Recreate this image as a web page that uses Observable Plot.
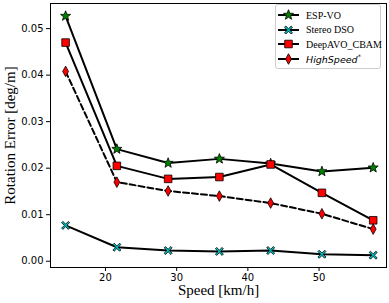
<!DOCTYPE html>
<html>
<head>
<meta charset="utf-8">
<script src="https://cdn.jsdelivr.net/npm/d3@7"></script>
<script src="https://cdn.jsdelivr.net/npm/@observablehq/plot@0.6"></script>
<style>
  body { margin: 0; background: #fff; }
  #wrap { position: relative; width: 389px; height: 303px; }
  #legend {
    position: absolute; left: 275px; top: 4px; width: 106px; height: 65px;
    border: 1px solid #ccc; border-radius: 3px; background: #fff; box-sizing: border-box;
  }
  .row { position: absolute; left: 0; height: 14px; display: flex; align-items: center; }
  .row svg { display: block; }
  .lab { font-family: "Liberation Serif", "Times New Roman", serif; font-size: 10px; color: #000; margin-left: 3px; white-space: nowrap; }
  .lab.it { font-family: "DejaVu Sans", sans-serif; font-style: italic; font-size: 9.5px; }
</style>
</head>
<body>
<div id="wrap"><div id="chart"></div><div id="legend"></div></div>
<script>
// ---- data ----
const speeds = [14.4, 21.6, 28.8, 36, 43.2, 50.4, 57.6];
const espVO = [0.0527, 0.0241, 0.0211, 0.0220, 0.0210, 0.0193, 0.0201];
const stereoDSO = [0.0077, 0.0030, 0.0023, 0.0021, 0.0023, 0.0015, 0.0013];
const deepAVO = [0.0470, 0.0205, 0.0177, 0.0181, 0.0208, 0.0147, 0.0088];
const highSpeed = [0.0408, 0.0170, 0.0151, 0.0140, 0.0125, 0.0102, 0.0069];
const seriesNames = ["ESP-VO", "Stereo DSO", "DeepAVO_CBAM", "HighSpeed*"];
const xTicks = [20, 30, 40, 50];
const yTicks = [0, 0.01, 0.02, 0.03, 0.04, 0.05];

// ---- custom symbols ----
const starSym = { draw(ctx, size) {
  const R = Math.sqrt(size / Math.PI), r = R * 0.42;
  for (let i = 0; i < 10; i++) {
    const a = -Math.PI / 2 + i * Math.PI / 5, rr = i % 2 ? r : R;
    const x = rr * Math.cos(a), y = rr * Math.sin(a);
    i ? ctx.lineTo(x, y) : ctx.moveTo(x, y);
  }
  ctx.closePath();
}};
const squareSym = { draw(ctx, size) {
  const h = Math.sqrt(size / Math.PI);
  ctx.moveTo(-h, -h); ctx.lineTo(h, -h); ctx.lineTo(h, h); ctx.lineTo(-h, h); ctx.closePath();
}};
const thinDiamondSym = { draw(ctx, size) {
  const h = Math.sqrt(size / Math.PI), w = h * 0.55;
  ctx.moveTo(0, -h); ctx.lineTo(w, 0); ctx.lineTo(0, h); ctx.lineTo(-w, 0); ctx.closePath();
}};
const xSym = { draw(ctx, size) {
  const R = Math.sqrt(size / Math.PI), t = R * 0.32;
  const pts = [[0,-t],[R-t,-R],[R,-R+t],[t,0],[R,R-t],[R-t,R],[0,t],[-R+t,R],[-R,R-t],[-t,0],[-R,-R+t],[-R+t,-R]];
  pts.forEach((p, i) => i ? ctx.lineTo(p[0], p[1]) : ctx.moveTo(p[0], p[1]));
  ctx.closePath();
}};

const series = [
  { name: seriesNames[0], values: espVO, symbol: starSym, fill: "#008000", r: 5.3, dash: null },
  { name: seriesNames[1], values: stereoDSO, symbol: xSym, fill: "#00bfbf", r: 4.0, dash: null },
  { name: seriesNames[2], values: deepAVO, symbol: squareSym, fill: "#ff0000", r: 3.8, dash: null },
  { name: seriesNames[3], values: highSpeed, symbol: thinDiamondSym, fill: "#ff0000", r: 5.3, dash: "6,3" }
];
const rows = series.flatMap(s => speeds.map((x, i) => ({ name: s.name, x, y: s.values[i] })));

const marks = [];
for (const s of series) {
  const d = rows.filter(r => r.name === s.name);
  marks.push(Plot.line(d, { x: "x", y: "y", stroke: "black", strokeWidth: 2, strokeDasharray: s.dash || undefined }));
}
for (const s of series) {
  const d = rows.filter(r => r.name === s.name);
  marks.push(Plot.dot(d, { x: "x", y: "y", symbol: () => s.symbol, r: s.r, fill: s.fill, stroke: "black", strokeWidth: 0.8 }));
}

const chart = Plot.plot({
  width: 389, height: 303,
  marginLeft: 50, marginRight: 3, marginTop: 3, marginBottom: 36,
  style: { fontFamily: "DejaVu Sans, sans-serif", fontSize: "10px", background: "white", color: "black" },
  symbol: { type: "identity" },
  x: { domain: [12.28, 59.47] },
  y: { domain: [-0.00135, 0.0554] },
  marks: [
    Plot.axisX({ ticks: xTicks, tickSize: 4, tickPadding: 2, label: null, fontSize: 10 }),
    Plot.axisY({ ticks: yTicks, tickSize: 4, tickPadding: 3, tickFormat: d3.format(".2f"), label: null, fontSize: 10 }),
    ...marks,
    Plot.frame({ stroke: "black", strokeWidth: 1 }),
    Plot.text(["Speed [km/h]"], { frameAnchor: "bottom", dy: 23, lineAnchor: "middle", fontFamily: "Liberation Serif, serif", fontSize: 15 }),
    Plot.text(["Rotation Error [deg/m]"], { frameAnchor: "left", dx: -40, rotate: -90, lineAnchor: "middle", textAnchor: "middle", fontFamily: "Liberation Serif, serif", fontSize: 15 })
  ]
});
document.getElementById("chart").append(chart);

// ---- legend ----
const legend = document.getElementById("legend");
series.forEach((s, i) => {
  const row = document.createElement("div");
  row.className = "row";
  row.style.top = (3 + i * 14.6) + "px";
  const svg = d3.create("svg").attr("width", 27).attr("height", 14);
  svg.append("line").attr("x1", 2).attr("x2", 23).attr("y1", 7).attr("y2", 7)
    .attr("stroke", "black").attr("stroke-width", 2);
  const path = d3.path();
  s.symbol.draw(path, s.r * s.r * Math.PI);
  svg.append("path").attr("d", path.toString()).attr("transform", "translate(12.5,7)")
    .attr("fill", s.fill).attr("stroke", "black").attr("stroke-width", 0.8);
  row.append(svg.node());
  const lab = document.createElement("span");
  lab.className = "lab" + (i === 3 ? " it" : "");
  if (i === 3) { lab.innerHTML = "HighSpeed<sup style='font-size:6.5px'>*</sup>"; }
  else lab.textContent = s.name;
  row.append(lab);
  legend.append(row);
});
</script>
</body>
</html>
